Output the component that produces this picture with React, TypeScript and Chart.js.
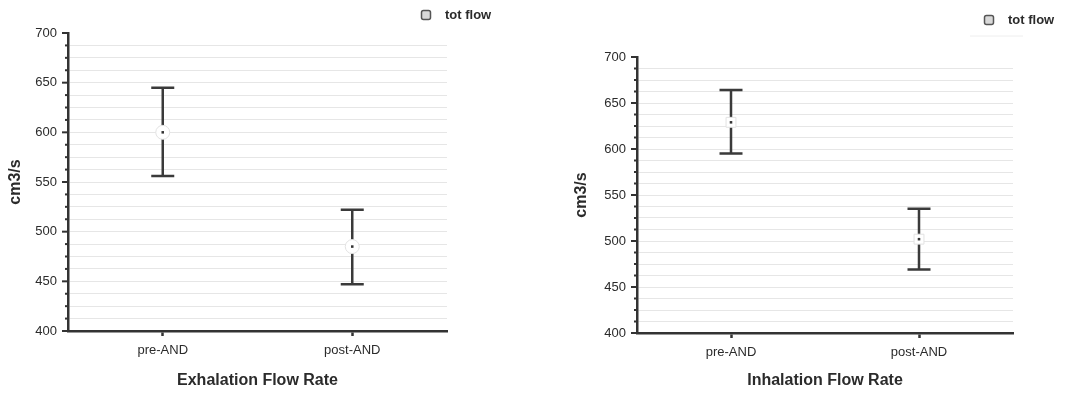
import React, { useEffect, useRef } from 'react';
import { Chart, registerables } from 'chart.js';
Chart.register(...registerables);

// ---- data ----
const categories = ['pre-AND', 'post-AND'];
const exhMean = [600, 485];
const exhUpper = [645, 522];
const exhLower = [556, 447];
const inhMean = [629, 502];
const inhUpper = [664, 535];
const inhLower = [595, 469];
const yMin = 400;
const yMax = 700;
const yMinorStep = 12.5;
const yMajorStep = 50;
const seriesLabel = 'tot flow';
const yTitle = 'cm3/s';
const exhTitle = 'Exhalation Flow Rate';
const inhTitle = 'Inhalation Flow Rate';

const FONT = '"Liberation Sans", Arial, sans-serif';
const INK = '#2b2b2b';

type PanelProps = {
  means: number[];
  uppers: number[];
  lowers: number[];
  xTitle: string;
  pad: { left: number; top: number; right: number; bottom: number };
  yWidth: number;
  xHeight: number;
  legend: { mx: number; my: number; tx: number; line?: boolean };
  marker: 'circle' | 'rect';
  left: number;
};

function Panel(p: PanelProps) {
  const ref = useRef<HTMLCanvasElement | null>(null);
  useEffect(() => {
    if (!ref.current) return;
    const errorBars = {
      id: 'errorBars',
      beforeDatasetsDraw(chart: any) {
        const { ctx } = chart;
        const xs = chart.scales.x;
        const ys = chart.scales.y;
        ctx.save();
        ctx.strokeStyle = '#3a3a3a';
        ctx.lineWidth = 2.5;
        for (let i = 0; i < p.means.length; i++) {
          const px = xs.getPixelForValue(i);
          const t = ys.getPixelForValue(p.uppers[i]);
          const b = ys.getPixelForValue(p.lowers[i]);
          const cap = 11.5;
          ctx.beginPath();
          ctx.moveTo(px, t);
          ctx.lineTo(px, b);
          ctx.moveTo(px - cap, t);
          ctx.lineTo(px + cap, t);
          ctx.moveTo(px - cap, b);
          ctx.lineTo(px + cap, b);
          ctx.stroke();
        }
        ctx.restore();
      },
    };
    const extras = {
      id: 'extras',
      afterDraw(chart: any) {
        const { ctx, chartArea } = chart;
        const ys = chart.scales.y;
        const ax = chartArea.left;
        ctx.save();
        ctx.strokeStyle = '#333';
        ctx.lineWidth = 2;
        ys.ticks.forEach((t: any) => {
          const py = ys.getPixelForValue(t.value);
          ctx.beginPath();
          if (t.value % yMajorStep === 0) {
            ctx.moveTo(ax - 6, py);
            ctx.lineTo(ax, py);
          } else {
            ctx.moveTo(ax - 3, py);
            ctx.lineTo(ax + 1, py);
          }
          ctx.stroke();
        });
        // legend
        const { mx, my, tx, line } = p.legend;
        ctx.lineWidth = 1.5;
        ctx.strokeStyle = '#555';
        ctx.fillStyle = '#d9d9d9';
        ctx.beginPath();
        if ((ctx as any).roundRect) (ctx as any).roundRect(mx - 4.5, my - 4.5, 9, 9, 2);
        else ctx.rect(mx - 4.5, my - 4.5, 9, 9);
        ctx.fill();
        ctx.stroke();
        ctx.fillStyle = INK;
        ctx.font = 'bold 13px ' + FONT;
        ctx.textBaseline = 'middle';
        ctx.textAlign = 'left';
        ctx.fillText(seriesLabel, tx, my);
        if (line) {
          ctx.strokeStyle = '#eeeeee';
          ctx.lineWidth = 1;
          ctx.beginPath();
          ctx.moveTo(mx - 19, my + 16);
          ctx.lineTo(tx + 15, my + 16);
          ctx.stroke();
        }
        ctx.restore();
      },
    };
    const chart = new Chart(ref.current, {
      type: 'line',
      data: {
        labels: categories,
        datasets: [
          {
            label: seriesLabel,
            data: p.means,
            order: 2,
            showLine: false,
            pointStyle: p.marker,
            pointRadius: 7,
            pointBackgroundColor: '#ffffff',
            pointBorderColor: '#e2e2e2',
            pointBorderWidth: 1,
          },
          {
            label: 'center',
            data: p.means,
            order: 1,
            showLine: false,
            pointStyle: 'rect',
            pointRadius: 1.8,
            pointBackgroundColor: '#333',
            pointBorderColor: '#333',
            pointBorderWidth: 0,
          },
        ],
      },
      options: {
        responsive: false,
        animation: false,
        events: [],
        layout: { padding: p.pad },
        plugins: { legend: { display: false }, tooltip: { enabled: false } },
        scales: {
          x: {
            type: 'category',
            offset: true,
            afterFit: (s: any) => {
              s.height = p.xHeight;
            },
            grid: {
              offset: false,
              drawOnChartArea: false,
              drawTicks: true,
              tickLength: 5,
              tickWidth: 2.5,
              tickColor: '#333',
            },
            border: { display: true, color: '#333', width: 2.5 },
            ticks: { color: INK, font: { family: FONT, size: 13 }, padding: 7 },
            title: {
              display: true,
              text: p.xTitle,
              color: INK,
              font: { family: FONT, size: 16, weight: 'bold' },
              padding: { top: 0, bottom: 4 },
            },
          },
          y: {
            type: 'linear',
            min: yMin,
            max: yMax,
            afterFit: (s: any) => {
              s.width = p.yWidth;
            },
            grid: {
              drawTicks: false,
              color: (c: any) =>
                c.tick && (c.tick.value === yMax || c.tick.value === yMin) ? 'rgba(0,0,0,0)' : '#e6e6e6',
              lineWidth: 1,
            },
            border: { display: true, color: '#333', width: 2.5 },
            ticks: {
              stepSize: yMinorStep,
              autoSkip: false,
              padding: 11,
              color: INK,
              font: { family: FONT, size: 13 },
              callback: (v: any) => (Number(v) % yMajorStep === 0 ? String(v) : ''),
            },
            title: {
              display: true,
              text: yTitle,
              color: INK,
              font: { family: FONT, size: 16, weight: 'bold' },
              padding: { top: 6, bottom: 0 },
            },
          },
        },
      },
      plugins: [errorBars, extras],
    } as any);
    return () => chart.destroy();
  }, []);
  return (
    <div style={{ position: 'absolute', left: p.left, top: 0, width: 536, height: 394 }}>
      <canvas ref={ref} width={536} height={394} style={{ display: 'block' }} />
    </div>
  );
}

export default function App() {
  return (
    <div
      style={{
        position: 'fixed',
        left: 0,
        top: 0,
        width: 1072,
        height: 394,
        background: '#ffffff',
        overflow: 'hidden',
      }}
    >
      <Panel
        means={exhMean}
        uppers={exhUpper}
        lowers={exhLower}
        xTitle={exhTitle}
        pad={{ left: 0, top: 33, right: 89, bottom: 0 }}
        yWidth={68}
        xHeight={63}
        legend={{ mx: 426, my: 15, tx: 445 }}
        marker="circle"
        left={0}
      />
      <Panel
        means={inhMean}
        uppers={inhUpper}
        lowers={inhLower}
        xTitle={inhTitle}
        pad={{ left: 30, top: 57, right: 59, bottom: 0 }}
        yWidth={71}
        xHeight={61}
        legend={{ mx: 453, my: 20, tx: 472, line: true }}
        marker="rect"
        left={536}
      />
    </div>
  );
}
